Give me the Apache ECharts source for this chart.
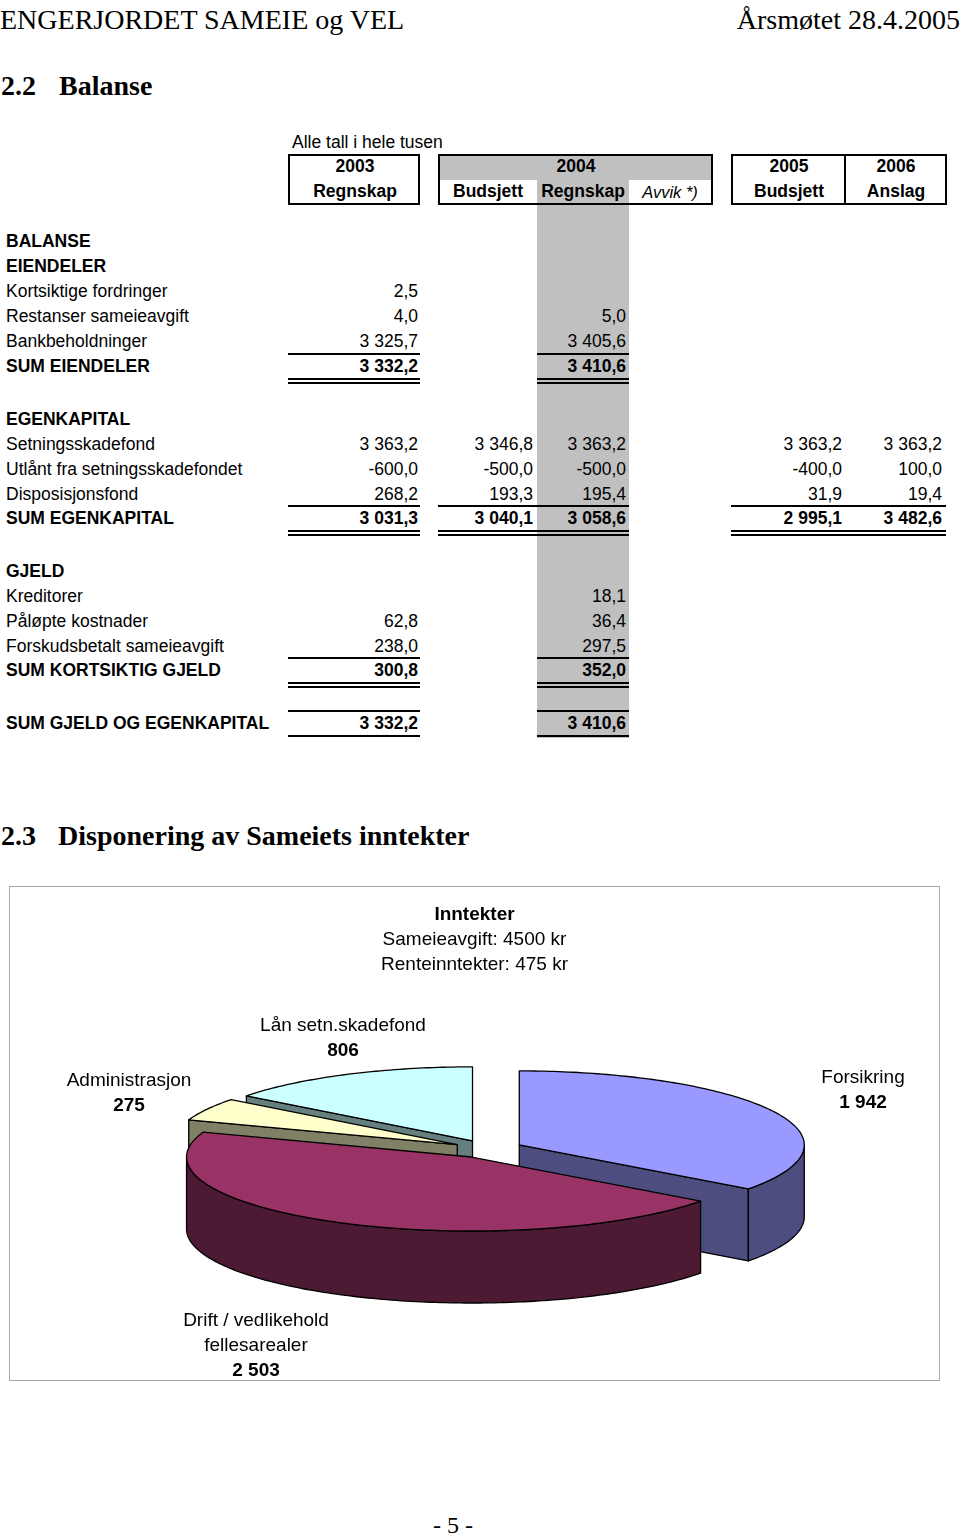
<!DOCTYPE html>
<html><head><meta charset="utf-8">
<script src="https://cdn.jsdelivr.net/npm/echarts@6/dist/echarts.min.js"></script>
<style>
html,body{margin:0;padding:0;background:#fff;}
body{width:960px;height:1534px;position:relative;overflow:hidden;font-family:"Liberation Sans",Arial,sans-serif;color:#000;}
.t{position:absolute;white-space:nowrap;font-size:17.5px;line-height:20px;}
.serif{font-family:"Liberation Serif","Times New Roman",serif;font-size:28px;line-height:32px;}
.b{font-weight:bold;}
.box{position:absolute;border:2px solid #000;box-sizing:border-box;}
.fill{position:absolute;background:#c0c0c0;}
.rule{position:absolute;background:#000;}
</style></head><body>
<div id="chart" style="position:absolute;left:9px;top:886px;width:931px;height:495px;border:1px solid #a8a8a8;box-sizing:border-box;"></div>
<script>
// ---------- Table data ----------
const rowLabels = ['BALANSE','EIENDELER','Kortsiktige fordringer','Restanser sameieavgift','Bankbeholdninger','SUM EIENDELER',
  'EGENKAPITAL','Setningsskadefond','Utlånt fra setningsskadefondet','Disposisjonsfond','SUM EGENKAPITAL',
  'GJELD','Kreditorer','Påløpte kostnader','Forskudsbetalt sameieavgift','SUM KORTSIKTIG GJELD','SUM GJELD OG EGENKAPITAL'];
const boldRows = [0,1,5,6,10,11,15,16];
const regnskap2003 = [null,null,2.5,4.0,3325.7,3332.2,null,3363.2,-600.0,268.2,3031.3,null,null,62.8,238.0,300.8,3332.2];
const budsjett2004 = [null,null,null,null,null,null,null,3346.8,-500.0,193.3,3040.1,null,null,null,null,null,null];
const regnskap2004 = [null,null,null,5.0,3405.6,3410.6,null,3363.2,-500.0,195.4,3058.6,null,18.1,36.4,297.5,352.0,3410.6];
const avvik2004    = [null,null,null,null,null,null,null,null,null,null,null,null,null,null,null,null,null];
const budsjett2005 = [null,null,null,null,null,null,null,3363.2,-400.0,31.9,2995.1,null,null,null,null,null,null];
const anslag2006   = [null,null,null,null,null,null,null,3363.2,100.0,19.4,3482.6,null,null,null,null,null,null];
const headerYears  = ['2003','2004','2005','2006'];
const headerTypes  = ['Regnskap','Budsjett','Regnskap','Avvik *)','Budsjett','Anslag'];

// ---------- Pie data ----------
const categories = ['Forsikring','Drift / vedlikehold\nfellesarealer','Administrasjon','Lån setn.skadefond'];
const values = [1942, 2503, 275, 806];
const chartTitle = 'Inntekter';
const chartSub = ['Sameieavgift: 4500 kr','Renteinntekter: 475 kr'];

// ---------- Layout (positions / styles) ----------
const rowY = [241,266,291,316,341,366,419,444,469,494,518,571,596,621,646,670,723];
const colRight = [418,533,626,705,842,942];
const columns = [regnskap2003,budsjett2004,regnskap2004,avvik2004,budsjett2005,anslag2006];
const rules = [
  {row:5, spans:[[288,420],[537,629]], below:'double'},
  {row:10, spans:[[288,420],[438,629],[731,946]], below:'double'},
  {row:15, spans:[[288,420],[537,629]], below:'double'},
  {row:16, spans:[[288,420],[537,629]], below:'single'}
];

function fmt(v){
  const neg = v < 0; v = Math.abs(v);
  let [ip, dp] = v.toFixed(1).split('.');
  ip = ip.replace(/\B(?=(\d{3})+(?!\d))/g, ' ');
  return (neg?'-':'') + ip + ',' + dp;
}
function fmtInt(v){ return String(v).replace(/\B(?=(\d{3})+(?!\d))/g, ' '); }

function addDiv(cls, css, text){
  const d = document.createElement('div');
  d.className = cls; d.style.cssText = css;
  if (text != null) d.textContent = text;
  document.body.appendChild(d); return d;
}
function textAt(x, y, s, align, extraCls, extraCss){
  let css = 'top:'+y+'px;';
  if (align === 'right') css += 'right:'+(960-x)+'px;transform:translateY(-50%);';
  else if (align === 'center') css += 'left:'+x+'px;transform:translate(-50%,-50%);';
  else css += 'left:'+x+'px;transform:translateY(-50%);';
  return addDiv('t '+(extraCls||''), css+(extraCss||''), s);
}

// Gray column and header fill
addDiv('fill','left:438px;top:154px;width:274px;height:26px;');
addDiv('fill','left:537px;top:180px;width:92px;height:558px;');
// Header boxes
addDiv('box','left:288px;top:154px;width:132px;height:51px;');
addDiv('box','left:438px;top:154px;width:275px;height:51px;');
addDiv('box','left:731px;top:154px;width:216px;height:51px;');
addDiv('rule','left:844px;top:154px;width:2px;height:51px;');

// Page texts
textAt(0,20,'ENGERJORDET SAMEIE og VEL','left','serif');
textAt(960,20,'Årsmøtet 28.4.2005','right','serif');
textAt(1,86,'2.2','left','serif b');
textAt(59,86,'Balanse','left','serif b');
textAt(1,836,'2.3','left','serif b');
textAt(58,836,'Disponering av Sameiets inntekter','left','serif b');
textAt(453,1525,'- 5 -','center','serif','font-size:24px;');

// Header
textAt(292,142,'Alle tall i hele tusen','left');
textAt(355,166,headerYears[0],'center','b');
textAt(355,191,headerTypes[0],'center','b');
textAt(576,166,headerYears[1],'center','b');
textAt(488,191,headerTypes[1],'center','b');
textAt(583,191,headerTypes[2],'center','b');
textAt(670,192,headerTypes[3],'center','','font-style:italic;font-size:16.5px;');
textAt(789,166,headerYears[2],'center','b');
textAt(789,191,headerTypes[4],'center','b');
textAt(896,166,headerYears[3],'center','b');
textAt(896,191,headerTypes[5],'center','b');

// Rows
rowLabels.forEach((lab,i)=>{
  const bold = boldRows.indexOf(i) >= 0;
  textAt(6,rowY[i],lab,'left',bold?'b':'');
  columns.forEach((col,c)=>{
    if (col[i] != null) textAt(colRight[c],rowY[i],fmt(col[i]),'right',bold?'b':'');
  });
});
// Rules
rules.forEach(r=>{
  const y = rowY[r.row];
  r.spans.forEach(([a,b])=>{
    addDiv('rule','left:'+a+'px;top:'+(y-13)+'px;width:'+(b-a)+'px;height:2px;');
    if (r.below === 'double'){
      addDiv('rule','left:'+a+'px;top:'+(y+12)+'px;width:'+(b-a)+'px;height:1.5px;');
      addDiv('rule','left:'+a+'px;top:'+(y+16)+'px;width:'+(b-a)+'px;height:1.5px;');
    } else {
      addDiv('rule','left:'+a+'px;top:'+(y+12)+'px;width:'+(b-a)+'px;height:2px;');
    }
  });
});

// ---------- 3D pie via custom series ----------
const topColors  = ['#9999FF','#993366','#FFFFCC','#CCFFFF'];
const sideColors = ['#4D4D80','#4D1A33','#808066','#668080'];
const labelPos = [[853,203],[246,459],[119,206],[333,151]];
const PIE = {cx:478, cy:262, rx:285, ry:74, depth:72, explode:35};
const FONT = '"Liberation Sans", Arial, sans-serif';

const total = values.reduce((a,b)=>a+b,0);
const angS = [], angE = [];
let acc = 0;
values.forEach((v,i)=>{ angS.push(acc/total*2*Math.PI); acc += v; angE.push(acc/total*2*Math.PI); });
// draw back-to-front
const order = values.map((v,i)=>i).sort((a,b)=>(-Math.cos((angS[a]+angE[a])/2)) - (-Math.cos((angS[b]+angE[b])/2)));

function renderItem(params, api){
  const idx = api.value(1);
  const s = angS[idx], e = angE[idx], mid = (s+e)/2;
  const {cx,cy,rx,ry,depth,explode} = PIE;
  const ox = explode*Math.sin(mid), oy = -explode*Math.cos(mid)*ry/rx;
  const P = (t,h)=>[cx+ox+rx*Math.sin(t), cy+oy-ry*Math.cos(t)+h];
  const C = (h)=>[cx+ox, cy+oy+h];
  const arc = (a,b,h)=>{ const pts=[]; const n=Math.max(2,Math.ceil(Math.abs(b-a)/(Math.PI/180))); for(let k=0;k<=n;k++){ pts.push(P(a+(b-a)*k/n,h)); } return pts; };
  const st = {stroke:'#000', lineWidth:1.3, lineJoin:'round'};
  const children = [];
  if (Math.sin(s) < -1e-6) children.push({type:'polygon', shape:{points:[C(0),P(s,0),P(s,depth),C(depth)]}, style:Object.assign({fill:sideColors[idx]},st)});
  if (Math.sin(e) > 1e-6) children.push({type:'polygon', shape:{points:[C(0),P(e,0),P(e,depth),C(depth)]}, style:Object.assign({fill:sideColors[idx]},st)});
  const a = Math.max(s, Math.PI/2), b = Math.min(e, 3*Math.PI/2);
  if (b > a) children.push({type:'polygon', shape:{points:arc(a,b,0).concat(arc(b,a,depth))}, style:Object.assign({fill:sideColors[idx]},st)});
  children.push({type:'polygon', shape:{points:[C(0)].concat(arc(s,e,0))}, style:Object.assign({fill:topColors[idx]},st)});
  const nameLines = categories[idx].split('\n').map(l=>'{n|'+l+'}').join('\n');
  children.push({type:'text', x:labelPos[idx][0], y:labelPos[idx][1], style:{
    text: nameLines + '\n{v|' + fmtInt(api.value(0)) + '}', align:'center', verticalAlign:'middle',
    rich:{ n:{fontSize:19, fontFamily:FONT, fill:'#000', lineHeight:25}, v:{fontSize:19, fontFamily:FONT, fontWeight:'bold', fill:'#000', lineHeight:25} }
  }});
  return {type:'group', children};
}

const chart = echarts.init(document.getElementById('chart'), null, {renderer:'canvas'});
chart.setOption({
  animation:false,
  backgroundColor:'#fff',
  title:{ text:chartTitle, subtext:chartSub.join('\n'), left:'center', top:10, itemGap:0,
    textStyle:{fontSize:19, fontWeight:'bold', color:'#000', fontFamily:FONT, lineHeight:25},
    subtextStyle:{fontSize:19, color:'#000', fontFamily:FONT, lineHeight:25} },
  series:[{ type:'custom', coordinateSystem:'none', silent:true, renderItem,
    data: order.map(i=>[values[i], i]) }]
});
</script>
</body></html>
